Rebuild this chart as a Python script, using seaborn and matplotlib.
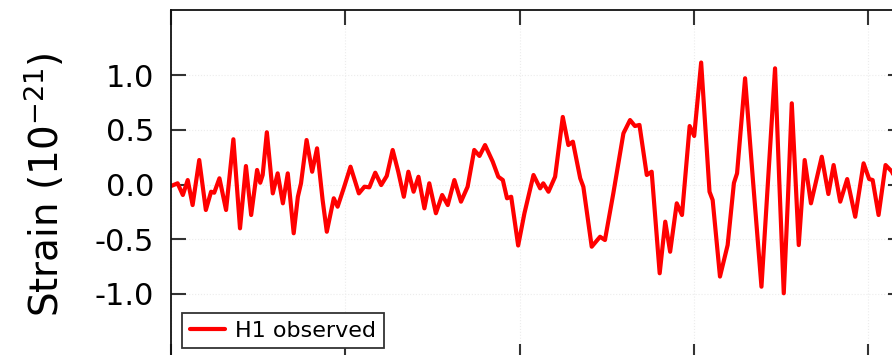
import matplotlib

matplotlib.use("Agg")
import matplotlib.pyplot as plt
import pandas as pd
import seaborn as sns

# H1 observed strain (time in s, strain in 1e-21)
time_s = [
    0.2500, 0.2519, 0.2534, 0.2548, 0.2562, 0.2581, 0.2600, 0.2615, 0.2624, 0.2639,
    0.2658, 0.2679, 0.2698, 0.2715, 0.2730, 0.2747, 0.2756, 0.2763, 0.2775, 0.2792,
    0.2806, 0.2821, 0.2835, 0.2852, 0.2864, 0.2873, 0.2889, 0.2905, 0.2919, 0.2935,
    0.2947, 0.2967, 0.2978, 0.2997, 0.3015, 0.3039, 0.3055, 0.3069, 0.3086, 0.3103,
    0.3119, 0.3136, 0.3152, 0.3168, 0.3181, 0.3196, 0.3210, 0.3227, 0.3241, 0.3260,
    0.3278, 0.3294, 0.3313, 0.3332, 0.3351, 0.3370, 0.3385, 0.3401, 0.3423, 0.3439,
    0.3452, 0.3464, 0.3476, 0.3496, 0.3514, 0.3540, 0.3559, 0.3568, 0.3583, 0.3602,
    0.3624, 0.3640, 0.3653, 0.3674, 0.3683, 0.3707, 0.3731, 0.3745, 0.3769, 0.3798,
    0.3817, 0.3831, 0.3844, 0.3865, 0.3879, 0.3902, 0.3918, 0.3932, 0.3951, 0.3966,
    0.3988, 0.4001, 0.4021, 0.4045, 0.4054, 0.4075, 0.4097, 0.4115, 0.4124, 0.4147,
    0.4170, 0.4194, 0.4213, 0.4233, 0.4245, 0.4258, 0.4270, 0.4281, 0.4291, 0.4301,
    0.4318, 0.4336, 0.4367, 0.4386, 0.4401, 0.4420, 0.4440, 0.4463, 0.4487, 0.4503,
    0.4513, 0.4530, 0.4550, 0.4568, 0.4586,
]
strain = [
    -0.014, 0.011, -0.096, 0.041, -0.188, 0.224, -0.233, -0.066, -0.075, 0.057,
    -0.233, 0.414, -0.401, 0.169, -0.279, 0.133, 0.016, 0.087, 0.478, -0.081,
    0.102, -0.172, 0.102, -0.446, -0.112, 0.011, 0.407, 0.117, 0.331, -0.142,
    -0.432, -0.126, -0.203, -0.020, 0.163, -0.081, -0.020, -0.026, 0.108, -0.005,
    0.078, 0.316, 0.117, -0.112, 0.117, -0.066, 0.071, -0.218, 0.011, -0.263,
    -0.096, -0.188, 0.041, -0.157, -0.020, 0.316, 0.261, 0.361, 0.209, 0.071,
    0.041, -0.126, -0.112, -0.558, -0.263, 0.087, -0.035, 0.011, -0.066, 0.071,
    0.618, 0.361, 0.392, 0.057, -0.020, -0.569, -0.478, -0.508, -0.081, 0.468,
    0.590, 0.535, 0.545, 0.087, 0.117, -0.812, -0.340, -0.615, -0.172, -0.279,
    0.535, 0.444, 1.116, -0.066, -0.142, -0.842, -0.554, 0.014, 0.102, 0.972,
    0.023, -0.935, 0.041, 1.063, 0.041, -0.995, -0.124, 0.743, 0.096, -0.554,
    0.224, -0.172, 0.254, -0.087, 0.178, -0.157, 0.050, -0.295, 0.194, 0.050,
    0.041, -0.279, 0.178, 0.119, -0.005,
]
y_ticks = [-1.0, -0.5, 0.0, 0.5, 1.0]
x_ticks = [0.25, 0.30, 0.35, 0.40, 0.45]

sns.set_theme(style="ticks")
plt.rcParams["font.family"] = ["DejaVu Sans"]
plt.rcParams["axes.unicode_minus"] = False
plt.rcParams["text.color"] = "black"
plt.rcParams["axes.labelcolor"] = "black"
plt.rcParams["xtick.labelcolor"] = "black"
plt.rcParams["ytick.labelcolor"] = "black"

df = pd.DataFrame({"time": time_s, "strain": strain})

fig = plt.figure(figsize=(8.92, 3.55), dpi=100)
# the reference is a crop: the axes run past the right and bottom edges,
# so the time tick labels end up below the visible area
ax = fig.add_axes([0.1917, -0.0124, 0.8206, 0.9853])

sns.lineplot(data=df, x="time", y="strain", color="#ff0000", linewidth=3.0,
             estimator=None, sort=False, label="H1 observed", ax=ax)
for ln in ax.get_lines():
    ln.set_solid_joinstyle("round")
    ln.set_solid_capstyle("round")

ax.set_xlim(0.25, 0.46)
ax.set_ylim(-1.6, 1.6)
ax.set_xticks(x_ticks)
ax.set_xticklabels([f"{v:.2f}" for v in x_ticks])
ax.set_yticks(y_ticks)
ax.set_yticklabels([f"{v:.1f}" for v in y_ticks])
ax.grid(True, color="#ececec", linestyle=":", linewidth=0.8)

for s in ax.spines.values():
    s.set_visible(True)
    s.set_color("#111111")
    s.set_linewidth(1.3)
ax.tick_params(direction="in", length=11, width=1.5, color="#333333",
               top=True, right=True, labelsize=22, pad=12)

ax.set_xlabel("")
ax.set_ylabel(r"Strain ($10^{-21}$)", fontsize=28, labelpad=20)

leg = ax.legend(loc="lower left", fontsize=16, frameon=True, fancybox=False,
                borderaxespad=0.5, handlelength=1.6, handletextpad=0.45,
                borderpad=0.35)
leg.get_frame().set_edgecolor("#333333")
leg.get_frame().set_linewidth(1.3)
leg.get_frame().set_alpha(1.0)
for t in leg.get_texts():
    t.set_color("black")

fig.savefig("out.png", dpi=100)
plt.close(fig)
